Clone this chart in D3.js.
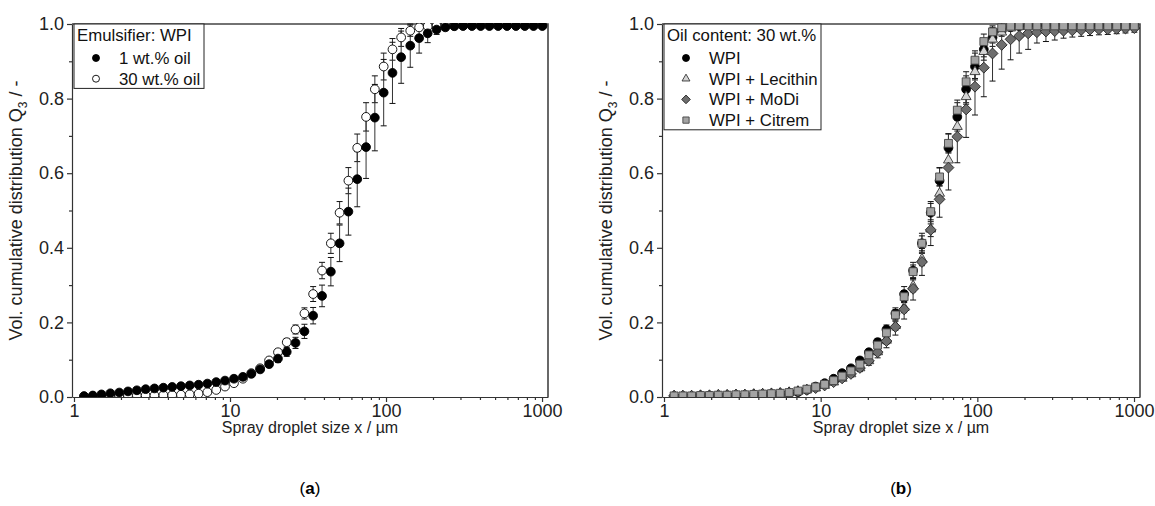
<!DOCTYPE html>
<html>
<head>
<meta charset="utf-8">
<script src="https://cdn.jsdelivr.net/npm/d3@7"></script>
<style>
  body { margin: 0; background: #fff; }
  svg { font-family: "Liberation Sans", Arial, sans-serif; }
  .axis path, .axis line { stroke: #333; stroke-width: 1.2; }
  .axis text { font-size: 18px; fill: #222; }
</style>
</head>
<body>
<div id="graphic"></div>
<script>
// droplet size classes (µm)
var sizes = [1.16, 1.32, 1.50, 1.71, 1.95, 2.22, 2.53, 2.88, 3.28, 3.74,
  4.26, 4.85, 5.52, 6.29, 7.16, 8.16, 9.29, 10.6, 12.1, 13.7,
  15.6, 17.8, 20.3, 23.1, 26.3, 30.0, 34.1, 38.9, 44.3, 50.4,
  57.4, 65.4, 74.5, 84.8, 96.6, 110, 125, 143, 163, 185,
  211, 240, 274, 312, 355, 404, 460, 524, 597, 680,
  775, 882, 1005];

// (a) WPI, 1 wt.% oil
var oil1 = [0.002, 0.004, 0.007, 0.010, 0.012, 0.015, 0.018, 0.021, 0.023, 0.025,
  0.027, 0.029, 0.031, 0.033, 0.036, 0.040, 0.044, 0.049, 0.054, 0.062,
  0.074, 0.088, 0.103, 0.121, 0.145, 0.176, 0.218, 0.271, 0.336, 0.412,
  0.497, 0.584, 0.670, 0.749, 0.816, 0.869, 0.911, 0.942, 0.962, 0.975,
  0.985, 0.991, 0.994, 0.995, 0.995, 0.995, 0.995, 0.995, 0.995, 0.995,
  0.995, 0.995, 0.995];
var oil1Err = [0.002, 0.003, 0.004, 0.005, 0.005, 0.006, 0.006, 0.006, 0.006, 0.006,
  0.006, 0.006, 0.006, 0.006, 0.006, 0.006, 0.006, 0.007, 0.007, 0.008,
  0.008, 0.009, 0.010, 0.012, 0.015, 0.019, 0.022, 0.029, 0.038, 0.049,
  0.063, 0.074, 0.084, 0.089, 0.089, 0.082, 0.070, 0.058, 0.040, 0.025,
  0.013, 0.008, 0.005, 0.003, 0.002, 0.001, 0, 0, 0, 0,
  0, 0, 0];

// (a) WPI, 30 wt.% oil  == (b) WPI
var oil30 = [0.002, 0.002, 0.002, 0.002, 0.003, 0.003, 0.004, 0.004, 0.004, 0.005,
  0.005, 0.006, 0.007, 0.009, 0.013, 0.019, 0.028, 0.037, 0.049, 0.064,
  0.077, 0.098, 0.120, 0.147, 0.181, 0.224, 0.276, 0.339, 0.412, 0.494,
  0.580, 0.668, 0.751, 0.825, 0.886, 0.932, 0.964, 0.982, 0.991, 0.994,
  0.995, 0.995, 0.995, 0.995, 0.995, 0.995, 0.995, 0.995, 0.995, 0.995,
  0.995, 0.995, 0.995];
var oil30Err = [0.002, 0.002, 0.002, 0.003, 0.003, 0.003, 0.003, 0.004, 0.004, 0.004,
  0.004, 0.004, 0.004, 0.004, 0.005, 0.005, 0.005, 0.005, 0.006, 0.006,
  0.007, 0.008, 0.008, 0.010, 0.012, 0.015, 0.020, 0.022, 0.027, 0.030,
  0.035, 0.037, 0.038, 0.036, 0.036, 0.029, 0.024, 0.015, 0.008, 0.005,
  0.003, 0.002, 0.001, 0, 0, 0, 0, 0, 0, 0,
  0, 0, 0];

// (b) WPI + Lecithin
var lecithin = [0.003, 0.003, 0.003, 0.004, 0.004, 0.005, 0.005, 0.006, 0.006, 0.007,
  0.008, 0.009, 0.010, 0.012, 0.015, 0.019, 0.024, 0.031, 0.040, 0.050,
  0.062, 0.078, 0.097, 0.121, 0.152, 0.191, 0.240, 0.298, 0.370, 0.450,
  0.546, 0.635, 0.725, 0.805, 0.872, 0.926, 0.959, 0.978, 0.989, 0.993,
  0.994, 0.995, 0.995, 0.995, 0.995, 0.995, 0.995, 0.995, 0.995, 0.995,
  0.995, 0.995, 0.995];
var lecithinErr = [0.002, 0.002, 0.002, 0.002, 0.002, 0.002, 0.002, 0.002, 0.002, 0.002,
  0.002, 0.002, 0.002, 0.002, 0.002, 0.003, 0.003, 0.004, 0.004, 0.005,
  0.005, 0.006, 0.006, 0.008, 0.010, 0.012, 0.014, 0.016, 0.018, 0.020,
  0.020, 0.022, 0.022, 0.020, 0.018, 0.014, 0.010, 0.006, 0.004, 0.002,
  0.001, 0.001, 0.001, 0.001, 0.001, 0.001, 0.001, 0.001, 0.001, 0.001,
  0.001, 0.001, 0.001];

// (b) WPI + MoDi
var modi = [0.003, 0.003, 0.003, 0.004, 0.004, 0.005, 0.005, 0.006, 0.006, 0.007,
  0.008, 0.009, 0.010, 0.012, 0.015, 0.019, 0.024, 0.031, 0.040, 0.050,
  0.062, 0.078, 0.097, 0.120, 0.150, 0.188, 0.235, 0.290, 0.362, 0.448,
  0.530, 0.615, 0.698, 0.771, 0.832, 0.883, 0.921, 0.944, 0.959, 0.968,
  0.975, 0.978, 0.980, 0.981, 0.982, 0.983, 0.984, 0.985, 0.986, 0.986,
  0.987, 0.988, 0.989];
var modiErr = [0.003, 0.003, 0.003, 0.003, 0.003, 0.003, 0.004, 0.004, 0.004, 0.004,
  0.004, 0.004, 0.005, 0.005, 0.005, 0.005, 0.006, 0.006, 0.006, 0.007,
  0.008, 0.010, 0.012, 0.015, 0.018, 0.022, 0.026, 0.030, 0.036, 0.042,
  0.048, 0.060, 0.070, 0.075, 0.076, 0.078, 0.074, 0.065, 0.055, 0.046,
  0.043, 0.029, 0.027, 0.024, 0.020, 0.018, 0.017, 0.016, 0.015, 0.014,
  0.013, 0.012, 0.011];

// (b) WPI + Citrem
var citrem = [0.003, 0.003, 0.003, 0.004, 0.004, 0.005, 0.005, 0.006, 0.006, 0.007,
  0.008, 0.009, 0.010, 0.012, 0.016, 0.021, 0.027, 0.034, 0.044, 0.056,
  0.070, 0.088, 0.113, 0.139, 0.172, 0.220, 0.269, 0.336, 0.412, 0.497,
  0.590, 0.680, 0.769, 0.845, 0.903, 0.953, 0.979, 0.990, 0.994, 0.995,
  0.995, 0.995, 0.995, 0.995, 0.995, 0.995, 0.995, 0.995, 0.995, 0.995,
  0.995, 0.995, 0.995];
var citremErr = [0.003, 0.003, 0.003, 0.003, 0.003, 0.003, 0.003, 0.004, 0.004, 0.004,
  0.004, 0.004, 0.004, 0.004, 0.005, 0.005, 0.005, 0.005, 0.005, 0.005,
  0.006, 0.007, 0.008, 0.010, 0.012, 0.014, 0.016, 0.018, 0.020, 0.022,
  0.024, 0.026, 0.027, 0.027, 0.025, 0.020, 0.012, 0.006, 0.003, 0.002,
  0.001, 0.001, 0.001, 0.001, 0.001, 0.001, 0.001, 0.001, 0.001, 0.001,
  0.001, 0.001, 0.001];

var xMajor = [1, 10, 100, 1000];
var xMinor = [2, 3, 4, 5, 6, 7, 8, 9, 20, 30, 40, 50, 60, 70, 80, 90,
  200, 300, 400, 500, 600, 700, 800, 900];
var yMajor = [0, 0.2, 0.4, 0.6, 0.8, 1.0];
var yMinor = [0.1, 0.3, 0.5, 0.7, 0.9];

var panels = [
  {
    tag: "a", left: 72, right: 548,
    legendTitle: "Emulsifier: WPI", legendWidth: 130,
    series: [
      { name: "30 wt.% oil", values: oil30, err: oil30Err, shape: "circle", fill: "#fff", stroke: "#000" },
      { name: "1 wt.% oil", values: oil1, err: oil1Err, shape: "circle", fill: "#000", stroke: "#000" }
    ],
    legendOrder: [1, 0]
  },
  {
    tag: "b", left: 662, right: 1140,
    legendTitle: "Oil content: 30 wt.%", legendWidth: 157,
    series: [
      { name: "WPI", values: oil30, err: oil30Err, shape: "circle", fill: "#000", stroke: "#000" },
      { name: "WPI + Lecithin", values: lecithin, err: lecithinErr, shape: "triangle", fill: "#d4d4d4", stroke: "#333" },
      { name: "WPI + MoDi", values: modi, err: modiErr, shape: "diamond", fill: "#6e6e6e", stroke: "#222" },
      { name: "WPI + Citrem", values: citrem, err: citremErr, shape: "square", fill: "#a3a3a3", stroke: "#444" }
    ],
    legendOrder: [0, 1, 2, 3]
  }
];

var plotTop = 24, plotBottom = 397;
var svg = d3.select("#graphic").append("svg").attr("width", 1155).attr("height", 506);

function markerPath(shape, s) {
  if (shape === "triangle") return d3.symbol(d3.symbolTriangle, s * s * 0.55)();
  if (shape === "diamond") return "M0," + (-s * 0.62) + "L" + (s * 0.62) + ",0L0," + (s * 0.62) + "L" + (-s * 0.62) + ",0Z";
  if (shape === "square") return d3.symbol(d3.symbolSquare, s * s * 0.8)();
  return d3.symbol(d3.symbolCircle, s * s * 0.78)();
}

panels.forEach(function (p) {
  var x = d3.scaleLog().domain([0.971, 1092]).range([p.left, p.right]);
  var y = d3.scaleLinear().domain([0, 1]).range([plotBottom, plotTop]);
  var g = svg.append("g");

  g.append("clipPath").attr("id", "clip" + p.tag)
    .append("rect").attr("x", p.left).attr("y", plotTop - 1)
    .attr("width", p.right - p.left).attr("height", plotBottom - plotTop + 1);

  // axes
  g.append("g").attr("class", "axis").attr("transform", "translate(0," + plotBottom + ")")
    .call(d3.axisBottom(x).tickValues(xMajor).tickFormat(d3.format("d")).tickSize(5).tickSizeOuter(0).tickPadding(2));
  g.append("g").attr("class", "axis").attr("transform", "translate(0," + plotBottom + ")")
    .call(d3.axisBottom(x).tickValues(xMinor).tickFormat("").tickSize(3).tickSizeOuter(0))
    .select(".domain").remove();
  g.append("g").attr("class", "axis").attr("transform", "translate(" + p.left + ",0)")
    .call(d3.axisLeft(y).tickValues(yMajor).tickFormat(d3.format(".1f")).tickSize(5).tickSizeOuter(0).tickPadding(3));
  g.append("g").attr("class", "axis").attr("transform", "translate(" + p.left + ",0)")
    .call(d3.axisLeft(y).tickValues(yMinor).tickFormat("").tickSize(3).tickSizeOuter(0))
    .select(".domain").remove();

  // frame top/right
  g.append("path")
    .attr("d", "M" + p.left + "," + plotTop + "H" + p.right + "V" + plotBottom)
    .attr("fill", "none").attr("stroke", "#444").attr("stroke-width", 1.6);

  // axis titles
  var yl = g.append("text")
    .attr("transform", "translate(" + (p.left - 50) + "," + ((plotTop + plotBottom) / 2) + ") rotate(-90)")
    .attr("text-anchor", "middle").attr("font-size", 18).attr("fill", "#222");
  yl.append("tspan").text("Vol. cumulative distribution Q");
  yl.append("tspan").attr("font-size", 12).attr("dy", 5).text("3");
  yl.append("tspan").attr("dy", -5).text(" / -");

  g.append("text")
    .attr("x", (p.left + p.right) / 2).attr("y", 433)
    .attr("text-anchor", "middle").attr("font-size", 16).attr("fill", "#222")
    .text("Spray droplet size x / \u00b5m");

  var pl = g.append("text")
    .attr("x", (p.left + p.right) / 2).attr("y", 494)
    .attr("text-anchor", "middle").attr("font-size", 17).attr("fill", "#000");
  pl.append("tspan").text("(");
  pl.append("tspan").attr("font-weight", "bold").text(p.tag);
  pl.append("tspan").text(")");

  // data
  var plot = g.append("g").attr("clip-path", "url(#clip" + p.tag + ")");
  p.series.forEach(function (s) {
    var pts = sizes.map(function (d, i) { return { x: d, v: s.values[i], e: s.err[i] }; })
      .filter(function (d) { return d.e > 0.0015; });
    var eb = plot.append("g").attr("stroke", "#333").attr("stroke-width", 1);
    eb.selectAll(null).data(pts).enter()
      .append("line")
      .attr("x1", function (d) { return x(d.x); }).attr("x2", function (d) { return x(d.x); })
      .attr("y1", function (d) { return y(d.v - d.e); }).attr("y2", function (d) { return y(d.v + d.e); });
    [-1, 1].forEach(function (sgn) {
      eb.selectAll(null).data(pts).enter()
        .append("line")
        .attr("x1", function (d) { return x(d.x) - 3; }).attr("x2", function (d) { return x(d.x) + 3; })
        .attr("y1", function (d) { return y(d.v + sgn * d.e); }).attr("y2", function (d) { return y(d.v + sgn * d.e); })
        .attr("stroke", "#111");
    });
  });
  p.series.forEach(function (s) {
    var pts = sizes.map(function (d, i) { return { x: d, v: s.values[i] }; });
    plot.append("g").selectAll("path").data(pts).enter().append("path")
      .attr("d", markerPath(s.shape, 8.8))
      .attr("transform", function (d) { return "translate(" + x(d.x) + "," + y(d.v) + ")"; })
      .attr("fill", s.fill).attr("stroke", s.stroke).attr("stroke-width", 0.9);
  });

  // legend
  var rows = p.legendOrder.length;
  var lg = g.append("g");
  lg.append("rect")
    .attr("x", p.left + 2).attr("y", plotTop)
    .attr("width", p.legendWidth).attr("height", 22 + rows * 20.7 + 1)
    .attr("fill", "#fff").attr("stroke", "#222").attr("stroke-width", 1);
  lg.append("text").attr("x", p.left + 5).attr("y", plotTop + 17)
    .attr("font-size", 16.8).attr("fill", "#111").text(p.legendTitle);
  p.legendOrder.forEach(function (k, j) {
    var s = p.series[k];
    var cy = plotTop + 34 + j * 20.7;
    lg.append("path").attr("d", markerPath(s.shape, 7))
      .attr("transform", "translate(" + (p.left + 24) + "," + cy + ")")
      .attr("fill", s.fill).attr("stroke", s.stroke).attr("stroke-width", 0.9);
    lg.append("text").attr("x", p.left + 47).attr("y", cy + 6)
      .attr("font-size", 16.8).attr("fill", "#111").text(s.name);
  });
});
</script>
</body>
</html>
